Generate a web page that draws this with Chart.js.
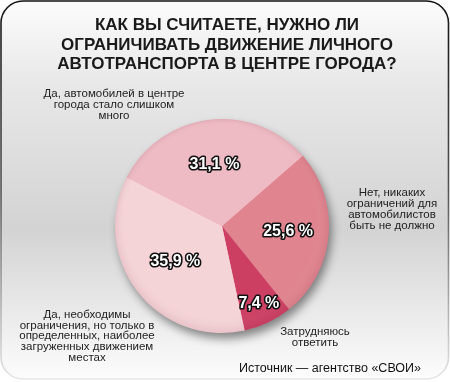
<!DOCTYPE html>
<html>
<head>
<meta charset="utf-8">
<script src="https://cdn.jsdelivr.net/npm/chart.js@4/dist/chart.umd.min.js"></script>
<style>
html,body{margin:0;padding:0;background:#ffffff;}
#wrap{position:relative;width:450px;height:382px;}
</style>
</head>
<body>
<div id="wrap"><canvas id="c" width="450" height="382"></canvas></div>
<script>
// ---- data ----
const titleLines = ["КАК ВЫ СЧИТАЕТЕ, НУЖНО ЛИ", "ОГРАНИЧИВАТЬ ДВИЖЕНИЕ ЛИЧНОГО", "АВТОТРАНСПОРТА В ЦЕНТРЕ ГОРОДА?"];
const categories = [
  "Нет, никаких ограничений для автомобилистов быть не должно",
  "Затрудняюсь ответить",
  "Да, необходимы ограничения, но только в определенных, наиболее загруженных движением местах",
  "Да, автомобилей в центре города стало слишком много"
];
const categoryLines = [
  ["Нет, никаких", "ограничений для", "автомобилистов", "быть не должно"],
  ["Затрудняюсь", "ответить"],
  ["Да, необходимы", "ограничения, но только в", "определенных, наиболее", "загруженных движением", "местах"],
  ["Да, автомобилей в центре", "города стало слишком", "много"]
];
const values = [25.6, 7.4, 35.9, 31.1];
const sourceText = "Источник — агентство «СВОИ»";

// ---- styles ----
const sliceColors = ["#e0848f", "#cc3f63", "#f5d4d8", "#eebac3"];

const bgPlugin = {
  id: 'bg',
  beforeDraw(chart) {
    const ctx = chart.ctx;
    const W = chart.width, H = chart.height;
    ctx.save();
    const g = ctx.createLinearGradient(0, 0, 0, H);
    g.addColorStop(0, '#fcfcfc');
    g.addColorStop(0.22, '#e8e8e8');
    g.addColorStop(0.6, '#d3d3d3');
    g.addColorStop(1, '#fdfdfd');
    const r = 22;
    const x0 = 1, y0 = 1, x1 = W - 1.5, y1 = H - 3;
    ctx.beginPath();
    ctx.moveTo(x0 + r, y0);
    ctx.lineTo(x1 - r, y0);
    ctx.arcTo(x1, y0, x1, y0 + r, r);
    ctx.lineTo(x1, y1 - r);
    ctx.arcTo(x1, y1, x1 - r, y1, r);
    ctx.lineTo(x0 + r, y1);
    ctx.arcTo(x0, y1, x0, y1 - r, r);
    ctx.lineTo(x0, y0 + r);
    ctx.arcTo(x0, y0, x0 + r, y0, r);
    ctx.closePath();
    ctx.fillStyle = g;
    ctx.fill();
    const bg = ctx.createLinearGradient(0, 0, 0, H);
    bg.addColorStop(0, '#111');
    bg.addColorStop(0.5, '#555');
    bg.addColorStop(1, '#e8e8e8');
    ctx.strokeStyle = bg;
    ctx.lineWidth = 1.6;
    ctx.stroke();

    // title
    ctx.fillStyle = '#1a1a1a';
    ctx.font = 'bold 17px "Liberation Sans", Arial, sans-serif';
    ctx.textAlign = 'center';
    ctx.textBaseline = 'middle';
    const ty = [25, 45, 64];
    titleLines.forEach((t, i) => ctx.fillText(t, 227, ty[i], 358));
    ctx.restore();
  }
};

const shadowPlugin = {
  id: 'pieShadow',
  beforeDatasetsDraw(chart) {
    const ctx = chart.ctx;
    const arc = chart.getDatasetMeta(0).data[0];
    ctx.save();
    ctx.shadowColor = 'rgba(0,0,0,0.45)';
    ctx.shadowBlur = 10;
    ctx.shadowOffsetX = 3;
    ctx.shadowOffsetY = 6;
    ctx.beginPath();
    ctx.arc(arc.x, arc.y, arc.outerRadius - 0.5, 0, Math.PI * 2);
    ctx.fillStyle = '#e9b0b8';
    ctx.fill();
    ctx.restore();
  },
  afterDatasetsDraw(chart) {
    const ctx = chart.ctx;
    const arc = chart.getDatasetMeta(0).data[0];
    const R = arc.outerRadius;
    ctx.save();
    const g = ctx.createRadialGradient(arc.x - R * 0.1, arc.y - R * 0.35, R * 0.2, arc.x, arc.y, R);
    g.addColorStop(0, 'rgba(255,255,255,0.0)');
    g.addColorStop(0.85, 'rgba(255,255,255,0.0)');
    g.addColorStop(1, 'rgba(120,40,60,0.10)');
    ctx.beginPath();
    ctx.arc(arc.x, arc.y, R, 0, Math.PI * 2);
    ctx.fillStyle = g;
    ctx.fill();
    ctx.restore();
  }
};

const labelPlugin = {
  id: 'labels',
  afterDraw(chart) {
    const ctx = chart.ctx;
    const meta = chart.getDatasetMeta(0);
    const frac = [0.62, 0.80, 0.55, 0.58];
    ctx.save();
    ctx.textAlign = 'center';
    ctx.textBaseline = 'middle';
    ctx.font = 'bold 16px "Liberation Sans", Arial, sans-serif';
    ctx.lineJoin = 'round';
    meta.data.forEach((a, i) => {
      const mid = (a.startAngle + a.endAngle) / 2;
      const x = a.x + Math.cos(mid) * a.outerRadius * frac[i];
      const y = a.y + Math.sin(mid) * a.outerRadius * frac[i];
      const txt = values[i].toFixed(1).replace('.', ',') + ' %';
      ctx.strokeStyle = '#111';
      ctx.lineWidth = 3.2;
      ctx.strokeText(txt, x, y);
      ctx.fillStyle = '#ffffff';
      ctx.fillText(txt, x, y);
    });
    ctx.font = '11.5px "Liberation Sans", Arial, sans-serif';
    ctx.fillStyle = '#222';
    const pos = [[392, 193, 10.8], [315, 332, 11], [87, 315, 10.6], [114, 94, 10.8]];
    categoryLines.forEach((lines, i) => {
      lines.forEach((l, j) => ctx.fillText(l, pos[i][0], pos[i][1] + j * pos[i][2]));
    });
    ctx.font = '12.5px "Liberation Sans", Arial, sans-serif';
    ctx.fillStyle = '#111';
    ctx.fillText(sourceText, 330, 369);
    ctx.restore();
  }
};

new Chart(document.getElementById('c'), {
  type: 'pie',
  data: {
    labels: categories,
    datasets: [{
      data: values,
      backgroundColor: sliceColors,
      borderWidth: 0
    }]
  },
  options: {
    responsive: false,
    animation: false,
    rotation: 49,
    layout: { padding: { left: 115, right: 121, top: 119, bottom: 49 } },
    plugins: {
      legend: { display: false },
      tooltip: { enabled: false },
      title: { display: false }
    }
  },
  plugins: [bgPlugin, shadowPlugin, labelPlugin]
});
</script>
</body>
</html>
